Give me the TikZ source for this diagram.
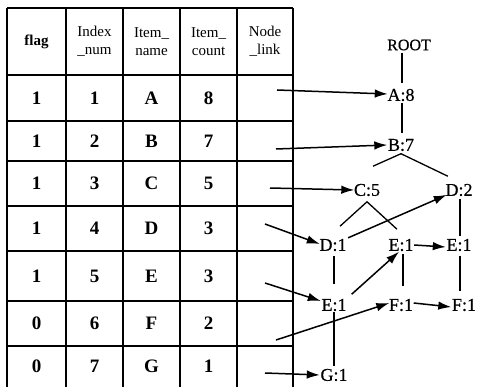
\documentclass[tikz,border=0pt]{standalone}
\usepackage{fontspec}
\setmainfont{Liberation Serif}
\newfontfamily\heavyserif{Liberation Serif}[FakeBold=0.5]
\usetikzlibrary{arrows.meta}
\begin{document}
\begin{tikzpicture}[x=1pt,y=-1pt,
  grid/.style={line width=1.6pt},
  hd/.style={font=\fontsize{15}{18}\selectfont, align=center, inner sep=0pt},
  cell/.style={font=\fontsize{19}{21}\selectfont\bfseries, inner sep=0pt},
  tn/.style={font=\fontsize{18}{20}\selectfont\heavyserif, inner sep=0.5pt},
  tl/.style={line width=1.3pt},
  lk/.style={line width=1.5pt, -{Latex[length=13pt,width=8.5pt]}}]
\useasboundingbox (0,0) rectangle (478,387);
% table grid
\foreach \x in {7,66,123,180,237,293} \draw[grid] (\x,8) -- (\x,388);
\foreach \y in {8,75,121,161,206,251,301,346} \draw[grid] (7,\y) -- (293,\y);
% header
\node[hd, font=\fontsize{15}{18}\selectfont\bfseries] (h1) at (36.5,41.5) {flag};
\node[hd] (h2) at (94.5,41.5) {Index\\\_num};
\node[hd] (h3) at (151.5,41.5) {Item\_\\name};
\node[hd] (h4) at (208.5,41.5) {Item\_\\count};
\node[hd] (h5) at (265,41.5) {Node\\\_link};
% rows
\foreach \f/\n/\m/\c/\y [count=\i] in {1/1/A/8/98, 1/2/B/7/141, 1/3/C/5/183.5, 1/4/D/3/228.5, 1/5/E/3/276, 0/6/F/2/323.5, 0/7/G/1/366.5}{
  \node[cell] (f\i) at (36.5,\y) {\f};
  \node[cell] (n\i) at (94.5,\y) {\n};
  \node[cell] (m\i) at (151.5,\y) {\m};
  \node[cell] (c\i) at (208.5,\y) {\c};
}
% link tails
\coordinate (l1) at (277,90);
\coordinate (l2) at (276,149);
\coordinate (l3) at (270,188);
\coordinate (l4) at (265,224);
\coordinate (l5) at (265,283);
\coordinate (l6) at (276,340);
\coordinate (l7) at (265,373);
% tree nodes
\node[tn, font=\fontsize{16}{18}\selectfont\heavyserif] (root) at (409,45) {ROOT};
\node[tn] (a8) at (401,95) {A:8};
\node[tn] (b7) at (401,145) {B:7};
\node[tn] (c5) at (367,190) {C:5};
\node[tn] (d2) at (459,190) {D:2};
\node[tn] (d1) at (333,245) {D:1};
\node[tn] (e1m) at (401,245) {E:1};
\node[tn] (e1r) at (459,245) {E:1};
\node[tn] (e1l) at (334,305) {E:1};
\node[tn] (f1m) at (401,305) {F:1};
\node[tn] (f1r) at (464,305) {F:1};
\node[tn] (g1) at (334,375) {G:1};
% tree edges
\draw[tl, shorten <=1.5pt, shorten >=5pt] ([xshift=1pt]root.south -| a8) -- ([xshift=1pt]a8.north);
\draw[tl, shorten <=1pt, shorten >=5pt] ([xshift=1pt]a8.south) -- ([xshift=1pt]b7.north);
\draw[tl] ([shift={(6pt,17pt)}]c5.north) -- ([yshift=-2pt]b7.south) -- ([shift={(3pt,7pt)}]d2.north west);
\draw[tl] ([shift={(7pt,12pt)}]d1.north) -- ([yshift=-5pt]c5.south) -- ([shift={(-4pt,9pt)}]e1m.north);
\draw[tl, shorten <=4pt, shorten >=14pt] ([xshift=1pt]d1.south) -- ([xshift=1pt]d1.south |- e1l.north);
\draw[tl, shorten <=2.5pt, shorten >=12pt] ([xshift=2pt]e1m.south) -- ([xshift=2pt]e1m.south |- f1m.north);
\draw[tl, shorten <=2.5pt, shorten >=2.5pt] ([xshift=1pt]d2.south) -- ([xshift=1pt]d2.south |- e1r.north);
\draw[tl, shorten <=4.5pt, shorten >=7.5pt] ([xshift=1pt]e1r.south) -- ([xshift=1pt]e1r.south |- f1r.north);
\draw[tl, shorten <=0.5pt, shorten >=2.5pt] (e1l.south) -- (e1l.south |- g1.north);
% node links
\draw[lk, shorten <=1pt] (d1.north east) -- ([shift={(2pt,2pt)}]d2.south west);
\draw[lk, shorten <=6pt] (e1l.north east) -- ([xshift=-2pt]e1m.south);
\draw[lk] (e1m.east) -- ([yshift=-2pt]e1r.west);
\draw[lk] ([yshift=2pt]f1m.east) -- ([yshift=-2pt]f1r.west);
% table links
\draw[lk] (l1) -- ([shift={(1pt,1pt)}]a8.west);
\draw[lk] (l2) -- (b7.west);
\draw[lk] (l3) -- ([xshift=1pt]c5.west);
\draw[lk] (l4) -- ([shift={(1pt,1pt)}]d1.west);
\draw[lk] (l5) -- ([yshift=4pt]e1l.west);
\draw[lk] (l6) -- ([shift={(1pt,2pt)}]f1m.west);
\draw[lk] (l7) -- (g1.west);
\end{tikzpicture}
\end{document}
